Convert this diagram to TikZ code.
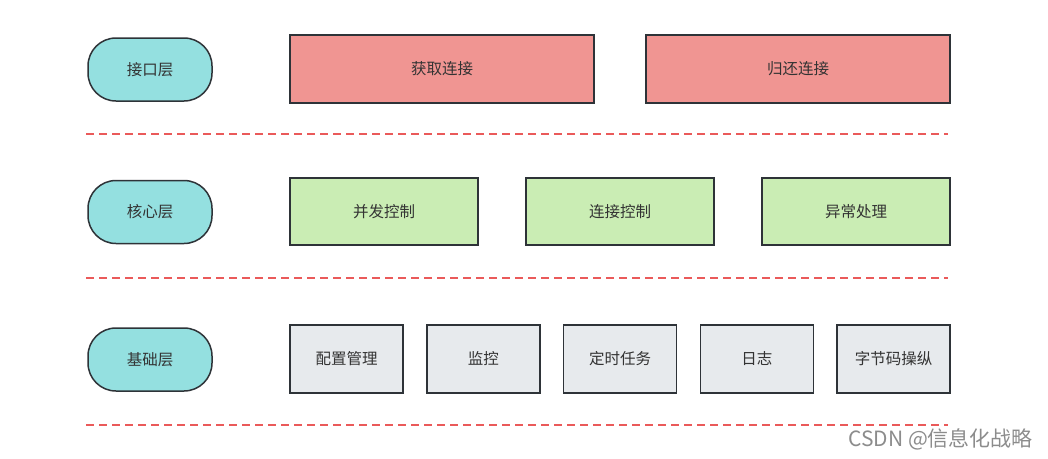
\documentclass[tikz,border=0pt]{standalone}
\usepackage{fontspec}
\setmainfont{Noto Sans CJK SC}
\usetikzlibrary{positioning}
\definecolor{layercyan}{HTML}{94E0E0}
\definecolor{apired}{HTML}{F09592}
\definecolor{coregreen}{HTML}{CAEDB4}
\definecolor{basegray}{HTML}{E7EAED}
\definecolor{boxline}{HTML}{2E3338}
\definecolor{textgray}{HTML}{333333}
\definecolor{seprred}{HTML}{EA5A5A}
\begin{document}
\begin{tikzpicture}[x=1pt,y=-1pt,
every node/.style={rectangle, draw=boxline, line width=1.5pt, align=center, inner sep=0pt, outer sep=0pt,
        text=textgray, font=\fontsize{15.5}{18}\selectfont},
layer/.style={fill=layercyan, rounded corners=28pt, minimum width=124pt, minimum height=63pt},
api/.style={fill=apired, minimum width=304pt, minimum height=68pt},
core/.style={fill=coregreen, minimum width=188pt, minimum height=67pt},
base/.style={fill=basegray, minimum width=113pt, minimum height=68pt},
sepline/.style={draw=seprred, line width=1.5pt, dash pattern=on 8pt off 5pt},
node distance=23.75pt
]
  \useasboundingbox (0,0) rectangle (1048,458);
  % layers
  \node[layer] (ifl) at (150,69.5) {接口层};
  \node[layer] (corel) at (150,212) {核心层};
  \node[layer] (basel) at (150,359.5) {基础层};
  % interface layer
  \node[api] (get) at (442,69) {获取连接};
  \node[api] (ret) at (798,69) {归还连接};
  % core layer
  \node[core] (conc) at (384,211.5) {并发控制};
  \node[core, right=48pt of conc] (connctl) {连接控制};
  \node[core, right=48pt of connctl] (exc) {异常处理};
  % base layer
  \node[base] (conf) at (346.5,359) {配置管理};
  \node[base, right=of conf] (mon) {监控};
  \node[base, right=of mon] (task) {定时任务};
  \node[base, right=of task] (log) {日志};
  \node[base, right=of log] (bytec) {字节码操纵};
  % separators
  \draw[sepline] (86,134) -- (948,134);
  \draw[sepline] (86,278) -- (948,278);
  \draw[sepline] (86,425) -- (948,425);
  \node[draw=none, text=black!45, font=\fontsize{21}{24}\selectfont, anchor=east] (mark) at (1033,439) {CSDN @信息化战略};
\end{tikzpicture}
\end{document}
